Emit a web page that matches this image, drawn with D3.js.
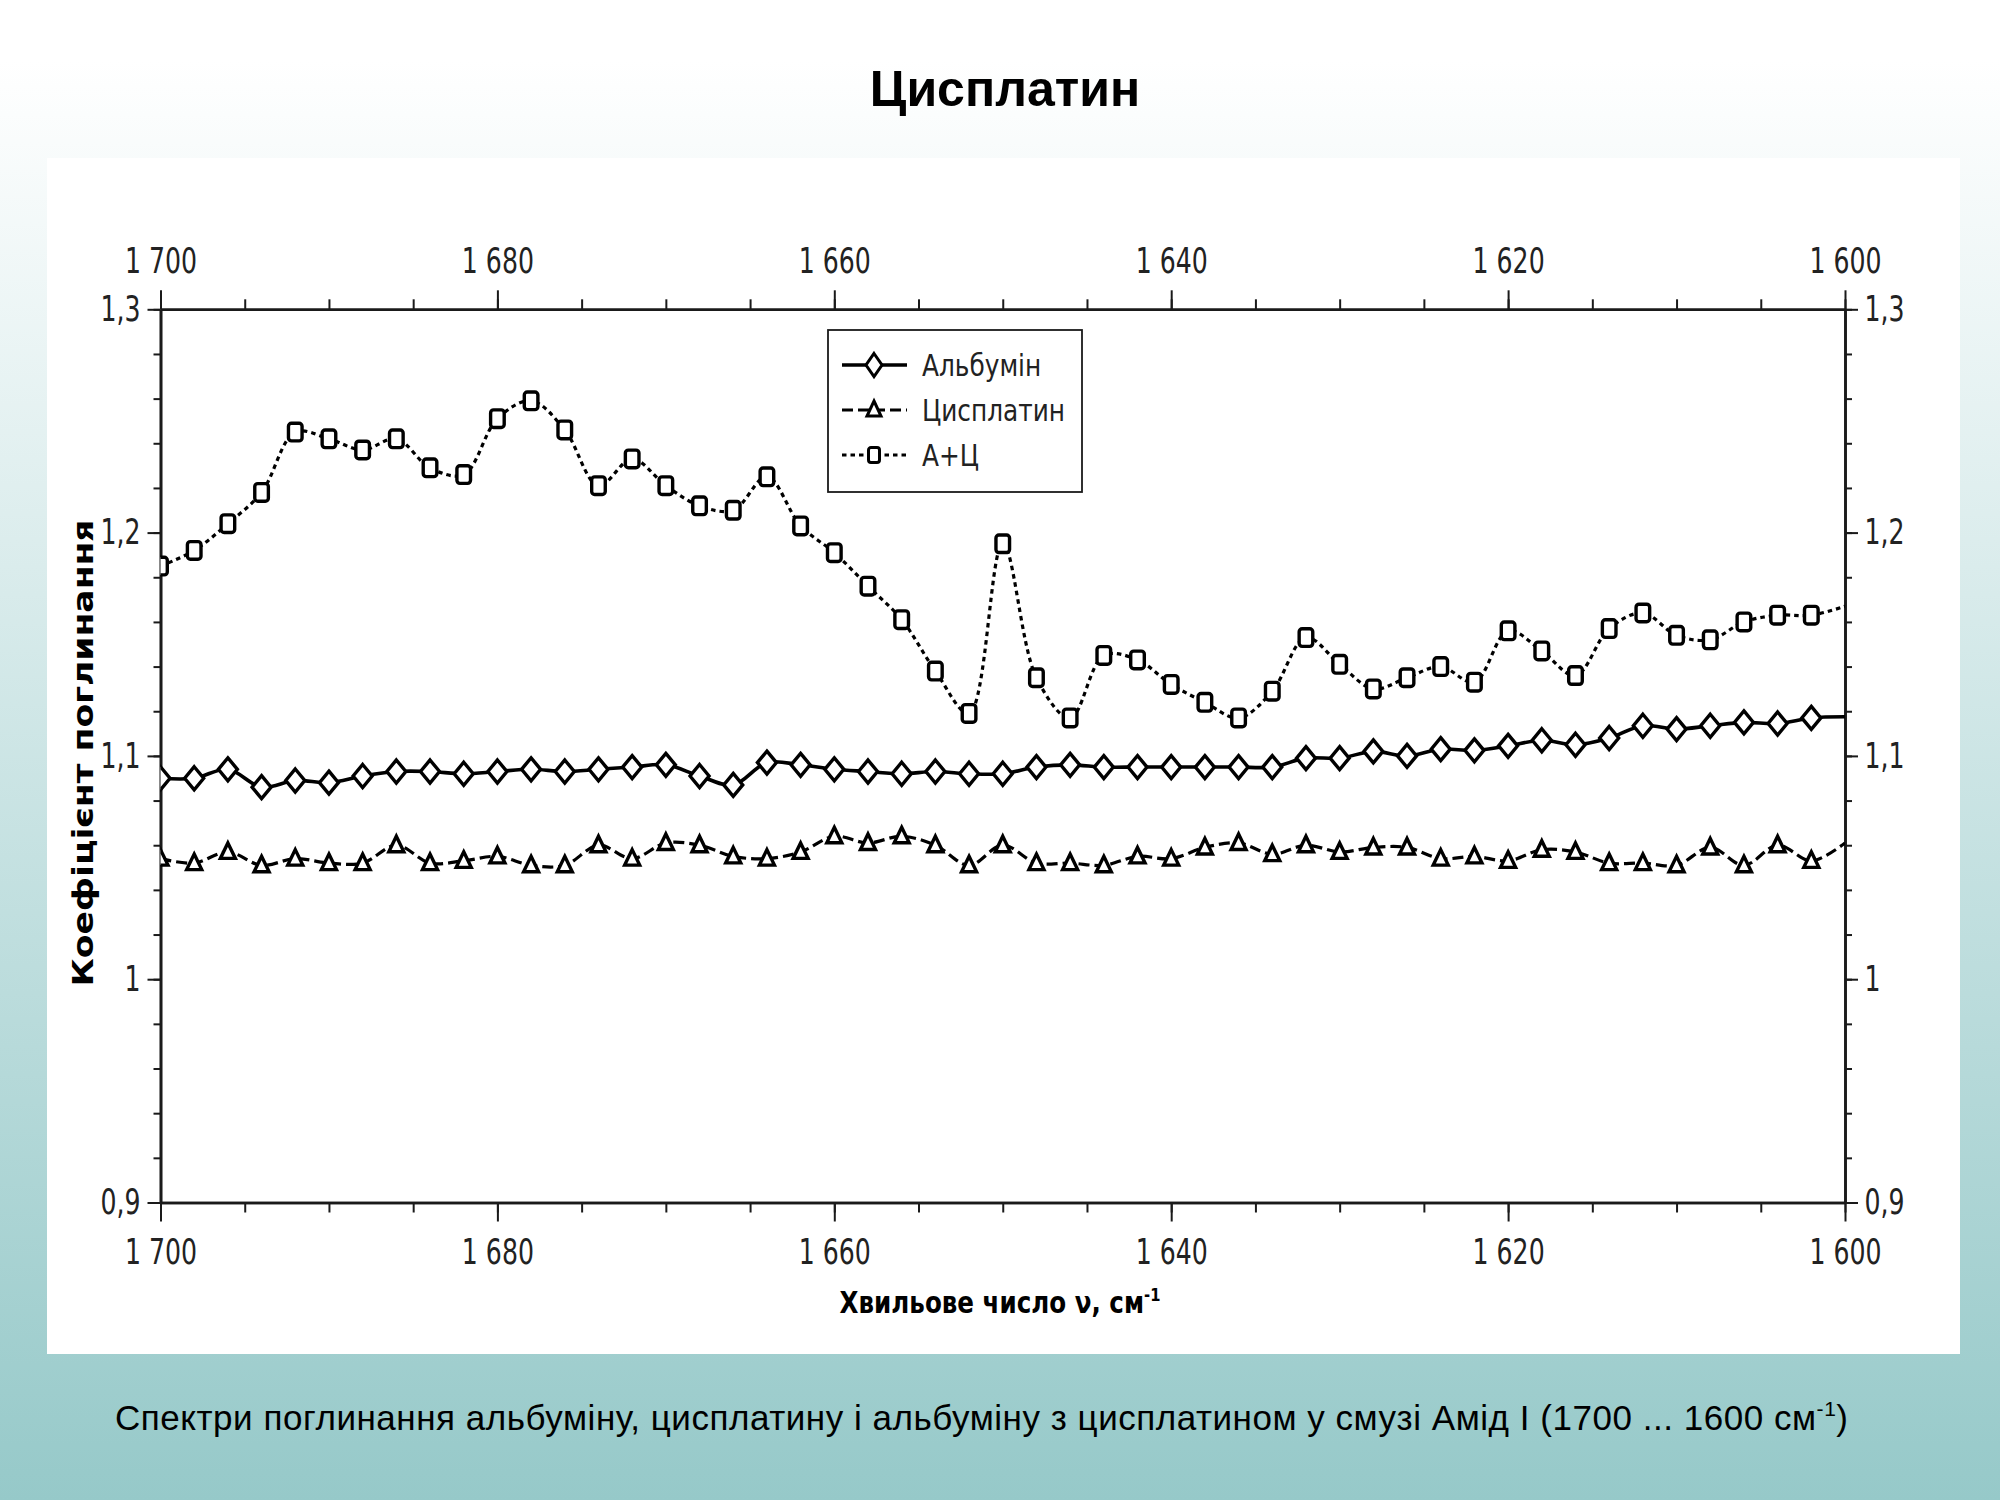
<!DOCTYPE html>
<html><head><meta charset="utf-8">
<script src="https://cdn.jsdelivr.net/npm/d3@7"></script>
<style>body{margin:0;background:#fff}svg{display:block}</style>
</head><body>
<svg id="c" width="2000" height="1500"></svg>
<script>
// ---- data ----
const wavenumbers = [1700,1698,1696,1694,1692,1690,1688,1686,1684,1682,1680,1678,1676,1674,1672,1670,1668,1666,1664,1662,1660,1658,1656,1654,1652,1650,1648,1646,1644,1642,1640,1638,1636,1634,1632,1630,1628,1626,1624,1622,1620,1618,1616,1614,1612,1610,1608,1606,1604,1602,1600];
const albumin = [1.090,1.090,1.094,1.086,1.089,1.088,1.091,1.093,1.093,1.092,1.093,1.094,1.093,
  1.094,1.095,1.096,1.091,1.087,1.097,1.096,1.094,1.093,1.092,1.093,1.092,1.092,
  1.095,1.096,1.095,1.095,1.095,1.095,1.095,1.095,1.099,1.099,1.102,1.100,1.103,
  1.1025,1.1045,1.107,1.105,1.108,1.1135,1.112,1.1135,1.115,1.1145,1.117,1.1175];
const cisplatin = [1.054,1.052,1.057,1.051,1.054,1.052,1.052,1.060,1.052,1.053,1.055,1.051,1.051,
  1.060,1.054,1.061,1.060,1.055,1.054,1.057,1.064,1.061,1.064,1.060,1.051,1.060,
  1.052,1.052,1.051,1.055,1.054,1.059,1.061,1.056,1.060,1.057,1.059,1.059,1.054,
  1.055,1.053,1.058,1.057,1.052,1.052,1.051,1.059,1.051,1.060,1.053,1.061];
const albCis = [1.185,1.192,1.204,1.218,1.245,1.242,1.237,1.242,1.229,1.226,1.251,1.259,1.246,
  1.221,1.233,1.221,1.212,1.210,1.225,1.203,1.191,1.176,1.161,1.138,1.119,1.195,
  1.135,1.117,1.145,1.143,1.132,1.124,1.117,1.129,1.153,1.141,1.130,1.135,1.140,
  1.133,1.156,1.147,1.136,1.157,1.164,1.154,1.152,1.160,1.163,1.163,1.167];
const seriesNames = ["Альбумін", "Цисплатин", "А+Ц"];
const xTicksMajor = [1700, 1680, 1660, 1640, 1620, 1600];
const yTicksMajor = [0.9, 1.0, 1.1, 1.2, 1.3];
const titleText = "Цисплатин";
const xTitle = "Хвильове число ν, см";
const yTitle = "Коефіцієнт поглинання";
const captionText = "Спектри поглинання альбуміну, цисплатину і альбуміну з цисплатином у смузі Амід I (1700 ... 1600 см";

// ---- setup ----
const svg = d3.select("#c");
const FONT = "'DejaVu Sans', sans-serif";
const ARIAL = "'Liberation Sans', Arial, sans-serif";
const INK = "#1a1a1a";
const SX = 0.72;

const defs = svg.append("defs");
const grad = defs.append("linearGradient").attr("id","bg").attr("x1",0).attr("y1",0).attr("x2",0).attr("y2",1);
grad.append("stop").attr("offset",0.04).attr("stop-color","#ffffff");
grad.append("stop").attr("offset",1).attr("stop-color","#96c9c9");
svg.append("rect").attr("width",2000).attr("height",1500).attr("fill","url(#bg)");

svg.append("text").attr("x",1005).attr("y",106).attr("text-anchor","middle")
  .attr("font-family",ARIAL).attr("font-weight","bold").attr("font-size",50).attr("fill","#000").text(titleText);

svg.append("rect").attr("x",47).attr("y",158).attr("width",1913).attr("height",1196).attr("fill","#fff");

const cap = svg.append("text").attr("x",115).attr("y",1430).attr("font-family",ARIAL).attr("font-size",35)
  .attr("fill","#000").attr("textLength",1733).attr("lengthAdjust","spacing");
cap.append("tspan").text(captionText);
cap.append("tspan").attr("font-size",21).attr("dy",-14).text("-1");
cap.append("tspan").attr("dy",14).text(")");

// ---- scales ----
const M = {left:160.5, right:1845, top:309.3, bottom:1202.5};
const x = d3.scaleLinear().domain([1700,1600]).range([M.left, M.right]);
const y = d3.scaleLinear().domain([0.9,1.3]).range([M.bottom, M.top]);

const loc = d3.formatLocale({decimal:",", thousands:"\u2009", grouping:[3], currency:["",""]});
const fmtX = d => loc.format(",")(d).replace("\u2009"," ");
const fmtY = d => loc.format(".1~f")(d);

const minorX = d3.range(1700, 1599, -5);
const minorY = d3.range(0.9, 1.3001, 0.02);

function styleAxis(g){
  g.select(".domain").attr("stroke",INK).attr("stroke-width",2.6);
  g.selectAll(".tick line").attr("stroke",INK).attr("stroke-width",2);
  g.selectAll("text").attr("font-family",FONT).attr("font-size",35).attr("fill","#222")
    .each(function(){ const t=d3.select(this); const xv=+t.attr("x")||0; t.attr("x", xv/SX).attr("transform",`scale(${SX},1)`); });
}

// minor ticks
svg.append("g").attr("transform",`translate(${M.left},0)`).call(d3.axisLeft(y).tickValues(minorY).tickSize(7).tickSizeOuter(0).tickFormat("")).call(styleAxis);
svg.append("g").attr("transform",`translate(${M.right},0)`).call(d3.axisRight(y).tickValues(minorY).tickSize(7).tickSizeOuter(0).tickFormat("")).call(styleAxis);
svg.append("g").attr("transform",`translate(0,${M.top})`).call(d3.axisTop(x).tickValues(minorX).tickSize(10).tickSizeOuter(0).tickFormat("")).call(styleAxis);
svg.append("g").attr("transform",`translate(0,${M.bottom})`).call(d3.axisBottom(x).tickValues(minorX).tickSize(10).tickSizeOuter(0).tickFormat("")).call(styleAxis);
// major ticks
svg.append("g").attr("transform",`translate(${M.left},0)`).call(d3.axisLeft(y).tickValues(yTicksMajor).tickSize(13).tickPadding(7).tickSizeOuter(0).tickFormat(fmtY)).call(styleAxis);
svg.append("g").attr("transform",`translate(${M.right},0)`).call(d3.axisRight(y).tickValues(yTicksMajor).tickSize(13).tickPadding(6.5).tickSizeOuter(0).tickFormat(fmtY)).call(styleAxis);
svg.append("g").attr("transform",`translate(0,${M.top})`).call(d3.axisTop(x).tickValues(xTicksMajor).tickSize(19).tickPadding(17).tickSizeOuter(0).tickFormat(fmtX)).call(styleAxis);
svg.append("g").attr("transform",`translate(0,${M.bottom})`).call(d3.axisBottom(x).tickValues(xTicksMajor).tickSize(19).tickPadding(18).tickSizeOuter(0).tickFormat(fmtX)).call(styleAxis);

// axis titles
const xt = svg.append("text").attr("transform","translate(1000,1313) scale(0.82,1)").attr("text-anchor","middle")
  .attr("font-family",FONT).attr("font-weight","bold").attr("font-size",30).attr("fill","#000");
xt.append("tspan").text(xTitle);
xt.append("tspan").attr("font-size",18).attr("dy",-12).text("-1");

svg.append("text").attr("transform","translate(93,753) rotate(-90) scale(1,0.8)").attr("text-anchor","middle")
  .attr("font-family",FONT).attr("font-weight","bold").attr("font-size",34.5).attr("fill","#000").text(yTitle);

// ---- symbols ----
const diamondSym = (w,h) => ({draw(ctx){ ctx.moveTo(0,-h); ctx.lineTo(w,0); ctx.lineTo(0,h); ctx.lineTo(-w,0); ctx.closePath(); }});
const triSym = (w,t,b) => ({draw(ctx){ ctx.moveTo(0,-t); ctx.lineTo(w,b); ctx.lineTo(-w,b); ctx.closePath(); }});
const rrectSym = (w,h,r) => ({draw(ctx){
  ctx.moveTo(-w+r,-h); ctx.lineTo(w-r,-h); ctx.arcTo(w,-h,w,-h+r,r); ctx.lineTo(w,h-r); ctx.arcTo(w,h,w-r,h,r);
  ctx.lineTo(-w+r,h); ctx.arcTo(-w,h,-w,h-r,r); ctx.lineTo(-w,-h+r); ctx.arcTo(-w,-h,-w+r,-h,r); ctx.closePath(); }});

const series = [
  {name:seriesNames[0], values:albumin,  dash:null,  width:3.6, sym:diamondSym(9.5,11.5), lsym:diamondSym(8,11.5)},
  {name:seriesNames[1], values:cisplatin,dash:"11,5",width:3.2, sym:triSym(7.5,9,6.5),   lsym:triSym(7,9,6)},
  {name:seriesNames[2], values:albCis,   dash:"4.5,4",width:3.2,sym:rrectSym(6.8,8.8,3), lsym:rrectSym(5.5,7.5,2.5)}
];

defs.append("clipPath").attr("id","plot").append("rect")
  .attr("x",M.left).attr("y",M.top).attr("width",M.right-M.left).attr("height",M.bottom-M.top);
const plot = svg.append("g").attr("clip-path","url(#plot)");

series.forEach(s => {
  const line = d3.line().x((d,i)=>x(wavenumbers[i])).y(d=>y(d)).curve(d3.curveCatmullRom.alpha(0.5));
  plot.append("path").datum(s.values).attr("d",line).attr("fill","none").attr("stroke","#000")
    .attr("stroke-width",s.width).attr("stroke-dasharray",s.dash).attr("stroke-linejoin","round");
  plot.selectAll(null).data(s.values.slice(0, s.values.length-1)).join("path")
    .attr("transform",(d,i)=>`translate(${x(wavenumbers[i])},${y(d)})`)
    .attr("d", d3.symbol(s.sym)()).attr("fill","#fff").attr("stroke","#000").attr("stroke-width",3.4);
});

// ---- legend ----
const lg = svg.append("g");
lg.append("rect").attr("x",828).attr("y",330).attr("width",254).attr("height",162)
  .attr("fill","#fff").attr("stroke",INK).attr("stroke-width",1.8);
series.forEach((s,k) => {
  const ry = 365 + k*45;
  lg.append("line").attr("x1",842).attr("x2",907).attr("y1",ry).attr("y2",ry)
    .attr("stroke","#000").attr("stroke-width",s.width).attr("stroke-dasharray",s.dash);
  lg.append("path").attr("transform",`translate(874,${ry})`).attr("d",d3.symbol(s.lsym)())
    .attr("fill","#fff").attr("stroke","#000").attr("stroke-width",3);
  lg.append("text").attr("transform",`translate(922,${ry}) scale(0.8,1)`).attr("dy","0.36em")
    .attr("font-family",FONT).attr("font-size",31).attr("fill","#222").text(s.name);
});
</script>
</body></html>
